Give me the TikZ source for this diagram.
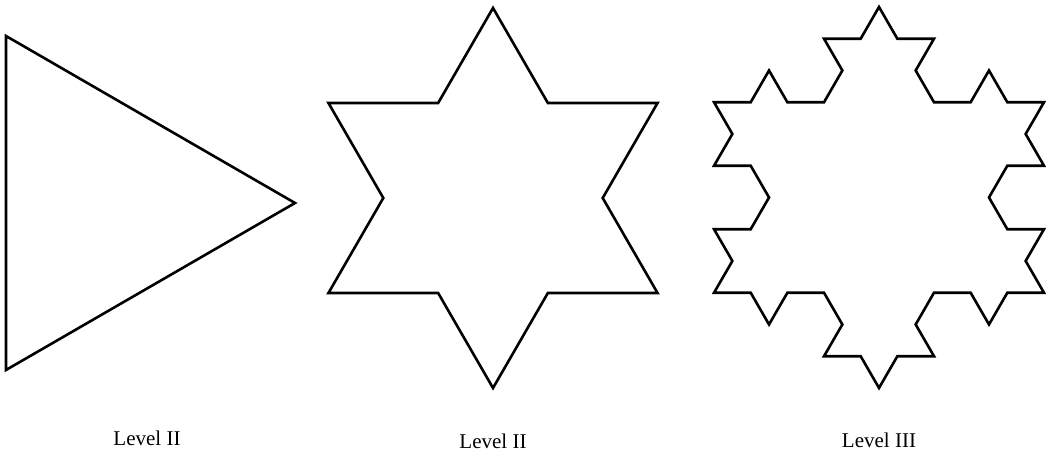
\documentclass[tikz,border=0pt]{standalone}
\usepackage{fontspec}
\setmainfont{Liberation Serif}
\begin{document}
\begin{tikzpicture}[x=1pt,y=1pt,
  outline/.style={draw=black,line width=2.6pt,line join=miter},
  lbl/.style={anchor=base,inner sep=0pt,font=\fontsize{21}{25}\selectfont}]
\useasboundingbox (0,0) rectangle (1046,454);
% Level I triangle
\coordinate (t1) at (6,418);
\coordinate (t2) at (295,251);
\coordinate (t3) at (6,84);
\draw[outline] (t1) -- (t2) -- (t3) -- cycle;
% Level II hexagram
\coordinate (h0) at (493,446);
\draw[outline] (h0)
  \foreach \b in {-60,-180,60} {
    \foreach \r in {0,60,-60,0} { -- ++({\b+\r}:109.7) }
  } -- cycle;
% Level III Koch snowflake
\coordinate (k0) at (879,447);
\draw[outline] (k0)
  \foreach \b in {-60,-180,60} {
    \foreach \r in {0,60,-60,0,60,120,0,60,-60,0,-120,-60,0,60,-60,0} { -- ++({\b+\r}:36.66) }
  } -- cycle;
% labels
\node[lbl] (l1) at (147,8) {Level II};
\node[lbl] (l2) at (493,5) {Level II};
\node[lbl] (l3) at (879,6) {Level III};
\end{tikzpicture}
\end{document}
